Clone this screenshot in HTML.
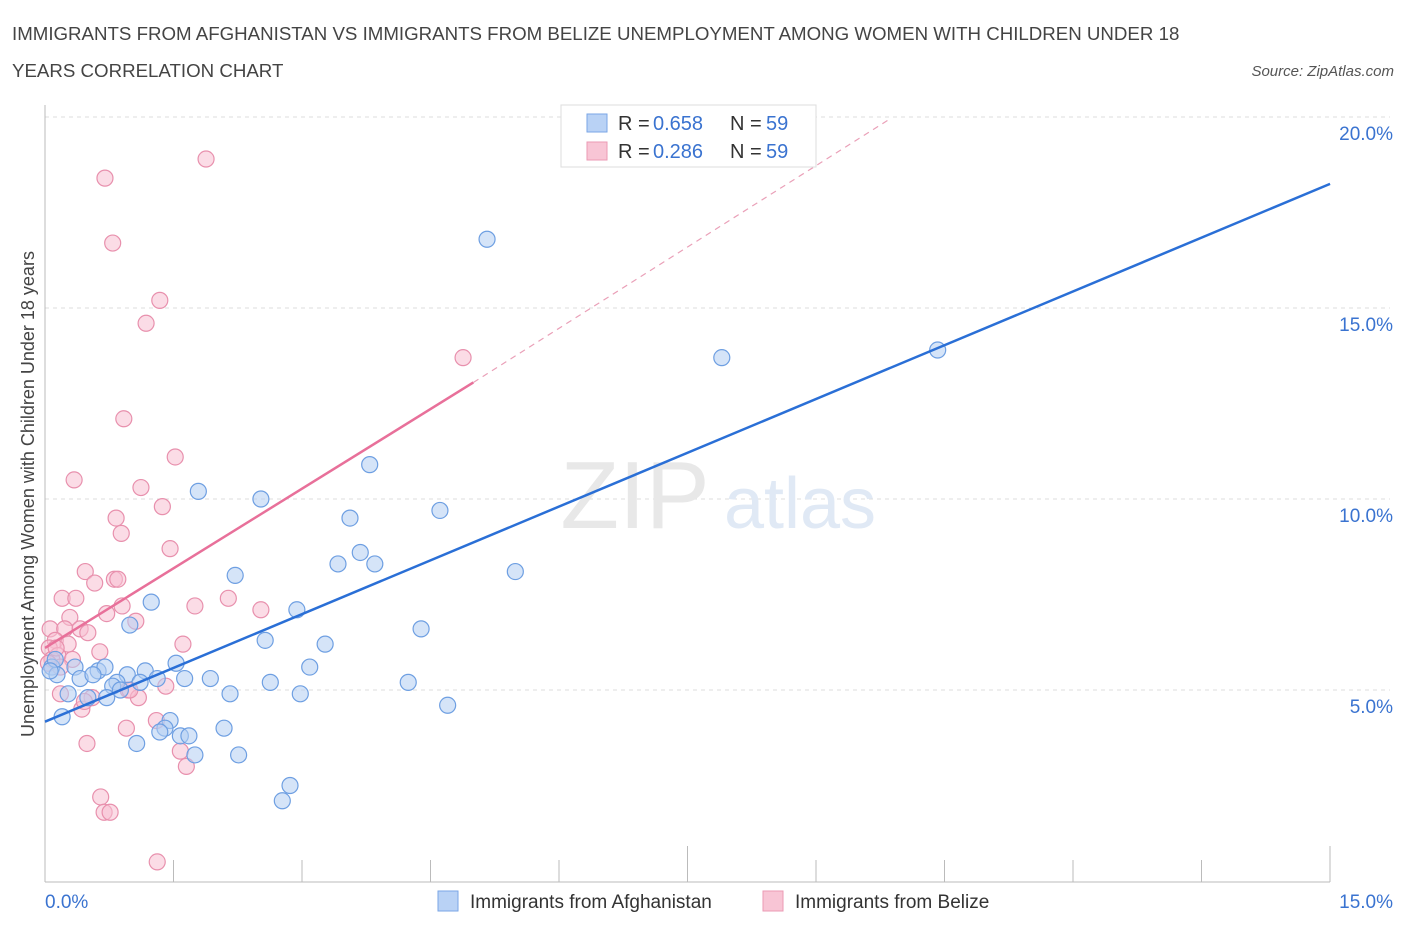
<!DOCTYPE html>
<html><head><meta charset="utf-8"><style>
body{margin:0;background:#fff;font-family:"Liberation Sans",sans-serif}
svg text{font-family:"Liberation Sans",sans-serif}
</style></head><body>
<svg width="1406" height="930" xmlns="http://www.w3.org/2000/svg">
<text x="12" y="40" font-size="18.7" fill="#444">IMMIGRANTS FROM AFGHANISTAN VS IMMIGRANTS FROM BELIZE UNEMPLOYMENT AMONG WOMEN WITH CHILDREN UNDER 18</text>
<text x="12" y="77" font-size="18.7" fill="#444">YEARS CORRELATION CHART</text>
<text x="1394" y="76" font-size="15" fill="#555" text-anchor="end" font-style="italic">Source: ZipAtlas.com</text>
<g id="grid"></g>
<text x="635" y="528" font-size="96" fill="#e8e8e8" font-family="Liberation Serif" text-anchor="middle">ZIP</text>
<text x="800" y="528" font-size="72" fill="#e0e9f5" text-anchor="middle">atlas</text>
<g id="marks"></g>
<text transform="translate(34,494) rotate(-90)" font-size="18" fill="#444" text-anchor="middle">Unemployment Among Women with Children Under 18 years</text>
<g>
<rect x="561" y="105" width="255" height="62" fill="#fff" stroke="#ddd"/>
<rect x="587" y="114" width="20" height="18" fill="#b9d2f5" stroke="#7aa6e6"/>
<text x="618" y="130" font-size="20" fill="#333">R =</text>
<text x="653" y="130" font-size="20" fill="#3a73d0">0.658</text>
<text x="730" y="130" font-size="20" fill="#333">N =</text>
<text x="766" y="130" font-size="20" fill="#3a73d0">59</text>
<rect x="587" y="142" width="20" height="18" fill="#f8c5d5" stroke="#eb9ab4"/>
<text x="618" y="158" font-size="20" fill="#333">R =</text>
<text x="653" y="158" font-size="20" fill="#3a73d0">0.286</text>
<text x="730" y="158" font-size="20" fill="#333">N =</text>
<text x="766" y="158" font-size="20" fill="#3a73d0">59</text>
</g>
<g>
<rect x="438" y="891" width="20" height="20" fill="#b9d2f5" stroke="#7aa6e6"/>
<text x="470" y="908" font-size="19" fill="#333">Immigrants from Afghanistan</text>
<rect x="763" y="891" width="20" height="20" fill="#f8c5d5" stroke="#eb9ab4"/>
<text x="795" y="908" font-size="19" fill="#333">Immigrants from Belize</text>
</g>
</svg>
<script>
const blueX=[5.16,7.90,10.42,3.79,1.79,2.52,4.61,3.56,3.68,3.42,3.85,5.49,2.22,1.24,2.94,0.99,4.39,2.57,3.27,3.09,1.53,0.08,0.35,0.62,0.70,0.96,1.17,1.31,1.63,1.93,0.84,0.79,2.63,4.24,0.14,2.16,2.98,0.27,0.50,0.72,0.20,1.46,1.40,1.34,2.09,1.58,1.68,1.07,1.75,2.26,2.86,2.77,4.70,0.12,0.41,0.88,0.06,0.56,1.11];
const blueY=[16.8,13.7,13.9,10.9,10.2,10.0,9.7,9.5,8.6,8.3,8.3,8.1,8.0,7.3,7.1,6.7,6.6,6.3,6.2,5.6,5.7,5.6,5.6,5.5,5.6,5.4,5.5,5.3,5.3,5.3,5.2,5.1,5.2,5.2,5.4,4.9,4.9,4.9,4.8,4.8,4.3,4.2,4.0,3.9,4.0,3.8,3.8,3.6,3.3,3.3,2.5,2.1,4.6,5.8,5.3,5.0,5.5,5.4,5.2];
const pinkX=[1.88,0.70,0.79,1.34,1.18,4.88,0.92,1.52,0.34,1.12,1.37,0.83,0.89,1.46,0.47,0.58,0.81,0.85,0.20,0.36,0.90,1.75,2.14,2.52,0.72,1.06,0.29,0.06,0.23,0.41,0.50,1.61,0.12,0.27,0.05,0.64,0.15,0.08,0.32,0.18,1.41,0.97,1.09,0.18,0.55,0.43,0.46,0.95,1.30,1.58,1.65,0.49,0.65,0.69,0.76,1.31,0.04,0.99,0.13];
const pinkY=[18.9,18.4,16.7,15.2,14.6,13.7,12.1,11.1,10.5,10.3,9.8,9.5,9.1,8.7,8.1,7.8,7.9,7.9,7.4,7.4,7.2,7.2,7.4,7.1,7.0,6.8,6.9,6.6,6.6,6.6,6.5,6.2,6.3,6.2,6.1,6.0,5.9,5.8,5.8,5.6,5.1,5.0,4.8,4.9,4.8,4.5,4.7,4.0,4.2,3.4,3.0,3.6,2.2,1.8,1.8,0.5,5.7,5.0,6.1];
const xTicks=["0.0%","15.0%"], yTicks=[5,10,15,20];
const X=v=>45+v*85.67, Y=v=>881-v*38.2;
const NS="http://www.w3.org/2000/svg";
const g=document.getElementById('grid'), m=document.getElementById('marks');
function mk(tag,a,p){const e=document.createElementNS(NS,tag);for(const k in a)e.setAttribute(k,a[k]);p.appendChild(e);return e;}
yTicks.forEach(v=>{
 const l=mk('line',{x1:45,x2:1390,y1:Y(v),y2:Y(v),stroke:'#ddd','stroke-dasharray':'4,4'},g);
 
 
 const t=mk('text',{x:1393,y:Y(v)+23,'font-size':19,fill:'#3a73d0','text-anchor':'end'},g);t.textContent=v.toFixed(1)+'%';
 
 
});
const ax=mk('line',{x1:45,x2:1330,y1:882,y2:882,stroke:'#bbb'},g);


const ay=mk('line',{x1:45,x2:45,y1:105,y2:882,stroke:'#bbb'},g);


for(let i=0;i<=10;i++){const x=45+i*128.5;const h=(i%5==0)?36:22;const t=mk('line',{x1:x,x2:x,y1:882-h,y2:882,stroke:'#bbb'},g);
 
 }
[[0,'start',45],[1,'end',1393]].forEach(([i,a,x])=>{const t=mk('text',{x:x,y:908,'font-size':19,fill:'#3a73d0','text-anchor':a},g);t.textContent=xTicks[i];
 
 });
function pts(xs,ys,f,s,n){xs.forEach((x,i)=>{const c=mk('circle',{cx:X(x),cy:Y(ys[i]),r:8,fill:f,'fill-opacity':0.55,stroke:s,'stroke-width':1.2},m);
 
 });}
pts(pinkX,pinkY,'#f8c0d2','#e890ad','belize-point');
pts(blueX,blueY,'#b3cdf2','#6e9fe2','afghanistan-point');
const bl=mk('line',{x1:X(0),y1:Y(4.17),x2:X(15),y2:Y(18.25),stroke:'#2a6fd6','stroke-width':2.5},m);


const pl=mk('line',{x1:X(0),y1:Y(6.1),x2:X(5),y2:Y(13.05),stroke:'#e8709a','stroke-width':2.5},m);


const pd=mk('line',{x1:X(5),y1:Y(13.05),x2:X(9.87),y2:Y(19.96),stroke:'#eaa0b8','stroke-width':1.2,'stroke-dasharray':'6,5'},m);


</script>
</body></html>
